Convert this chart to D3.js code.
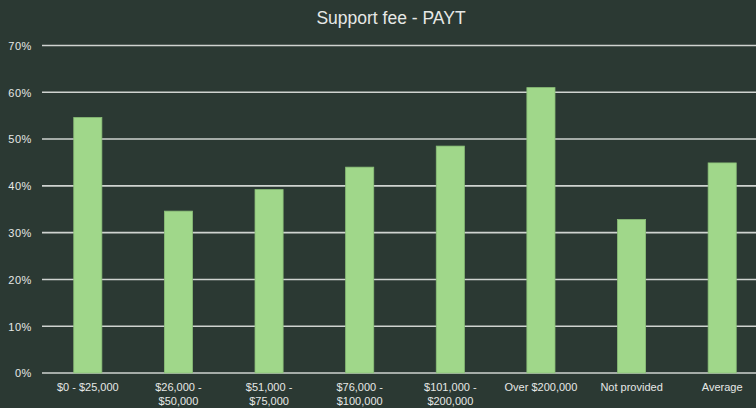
<!DOCTYPE html>
<html>
<head>
<meta charset="utf-8">
<script src="https://cdn.jsdelivr.net/npm/d3@7"></script>
<style>
  html, body { margin: 0; padding: 0; background: #2b3933; }
  svg { display: block; }
</style>
</head>
<body>
<svg id="chart" width="756" height="408"></svg>
<script>
// Income brackets and the share paying the support fee (PAYT)
const categories = [
  ["$0 - $25,000"],
  ["$26,000 -", "$50,000"],
  ["$51,000 -", "$75,000"],
  ["$76,000 -", "$100,000"],
  ["$101,000 -", "$200,000"],
  ["Over $200,000"],
  ["Not provided"],
  ["Average"]
];
const values = [0.546, 0.346, 0.392, 0.440, 0.485, 0.610, 0.328, 0.449];
const yTicks = [0, 0.1, 0.2, 0.3, 0.4, 0.5, 0.6, 0.7];
const title = "Support fee - PAYT";

const svg = d3.select("#chart");
const W = 756, H = 408;
const font = "'Liberation Sans', Arial, sans-serif";
const textColor = "#e6e8e6";

svg.append("rect").attr("width", W).attr("height", H).attr("fill", "#2b3933");

const keys = categories.map((c, i) => i);
const x = d3.scaleBand()
  .domain(keys)
  .range([42.5, 767.5])
  .paddingInner(0.69)
  .paddingOuter(0.345);

const y = d3.scaleLinear().domain([0, 0.7]).range([373, 45.5]);

// Horizontal gridlines
svg.append("g")
  .selectAll("line")
  .data(yTicks)
  .join("line")
  .attr("x1", 42)
  .attr("x2", W)
  .attr("y1", d => y(d))
  .attr("y2", d => y(d))
  .attr("stroke", "#cfd3d0")
  .attr("stroke-width", 1.6);

// Y axis labels
const yAxis = d3.axisLeft(y).tickValues(yTicks).tickFormat(d3.format(".0%")).tickSize(0).tickPadding(0);
const gy = svg.append("g").attr("transform", "translate(32,0)").call(yAxis);
gy.select(".domain").remove();
gy.selectAll("text")
  .attr("fill", textColor)
  .attr("font-family", font)
  .attr("font-size", 11)
  .attr("letter-spacing", 0.6)
  .attr("dy", "0.35em");

// Bars
svg.append("g")
  .selectAll("rect")
  .data(values)
  .join("rect")
  .attr("x", (d, i) => x(i))
  .attr("width", x.bandwidth())
  .attr("y", d => y(d))
  .attr("height", d => y(0) - y(d))
  .attr("fill", "#a0d78a")
  .attr("stroke", "#8bbf78")
  .attr("stroke-width", 0.8);

// X axis labels (wrapped onto two lines)
const xAxis = d3.axisBottom(x).tickSize(0).tickPadding(0).tickFormat(() => "");
const gx = svg.append("g").attr("transform", "translate(0,373)").call(xAxis);
gx.select(".domain").remove();
gx.selectAll(".tick text").each(function(i) {
  const t = d3.select(this)
    .attr("fill", textColor)
    .attr("font-family", font)
    .attr("font-size", 11)
    .attr("y", 0)
    .attr("dy", null);
  categories[i].forEach((line, k) => {
    t.append("tspan")
      .attr("x", 0)
      .attr("y", 18 + k * 14)
      .text(line);
  });
});

// Title
svg.append("text")
  .attr("x", 391)
  .attr("y", 24)
  .attr("text-anchor", "middle")
  .attr("fill", textColor)
  .attr("font-family", font)
  .attr("font-size", 17.5)
  .text(title);
</script>
</body>
</html>
